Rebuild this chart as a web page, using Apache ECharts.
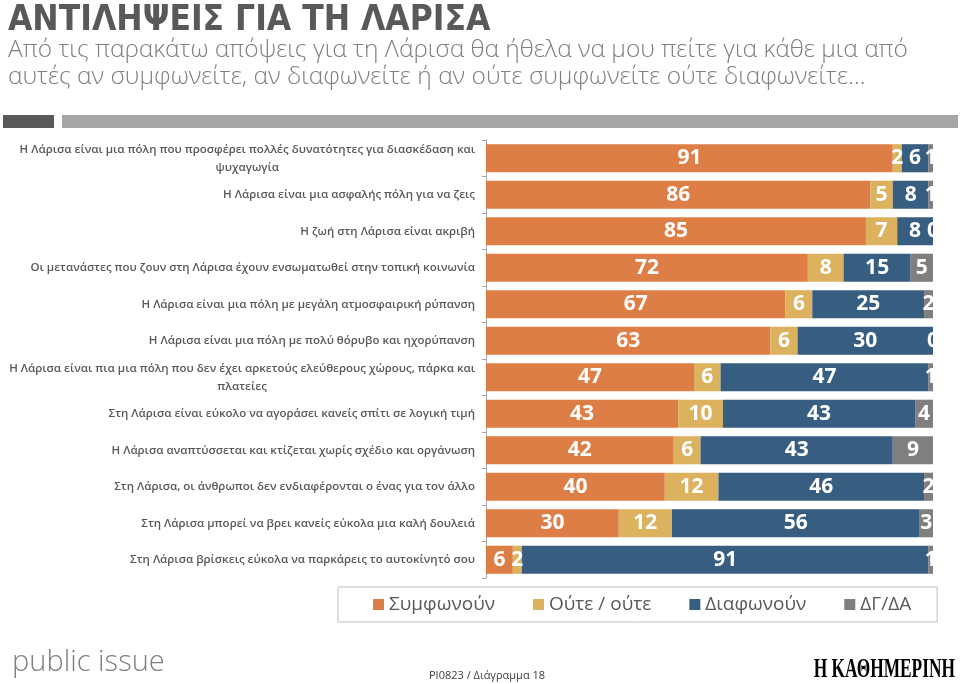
<!DOCTYPE html>
<html><head><meta charset="utf-8">
<script src="https://cdn.jsdelivr.net/npm/echarts@6/dist/echarts.min.js"></script>
<style>html,body{margin:0;padding:0;background:#fff}#c{width:960px;height:684px}</style>
</head><body><div id="c"></div>
<script>
const categories = [
  "Η Λάρισα είναι μια πόλη που προσφέρει πολλές δυνατότητες για διασκέδαση και\nψυχαγωγία",
  "Η Λάρισα είναι μια ασφαλής πόλη για να ζεις",
  "Η ζωή στη Λάρισα είναι ακριβή",
  "Οι μετανάστες που ζουν στη Λάρισα έχουν ενσωματωθεί στην τοπική κοινωνία",
  "Η Λάρισα είναι μια πόλη με μεγάλη ατμοσφαιρική ρύπανση",
  "Η Λάρισα είναι μια πόλη με πολύ θόρυβο και ηχορύπανση",
  "Η Λάρισα είναι πια μια πόλη που δεν έχει αρκετούς ελεύθερους χώρους, πάρκα και\nπλατείες",
  "Στη Λάρισα είναι εύκολο να αγοράσει κανείς σπίτι σε λογική τιμή",
  "Η Λάρισα αναπτύσσεται και κτίζεται χωρίς σχέδιο και οργάνωση",
  "Στη Λάρισα, οι άνθρωποι δεν ενδιαφέρονται ο ένας για τον άλλο",
  "Στη Λάρισα μπορεί να βρει κανείς εύκολα μια καλή δουλειά",
  "Στη Λάρισα βρίσκεις εύκολα να παρκάρεις το αυτοκίνητό σου"
];
const seriesNames = ["Συμφωνούν", "Ούτε / ούτε", "Διαφωνούν", "ΔΓ/ΔΑ"];
const agree    = [91, 86, 85, 72, 67, 63, 47, 43, 42, 40, 30, 6];
const neither  = [2, 5, 7, 8, 6, 6, 6, 10, 6, 12, 12, 2];
const disagree = [6, 8, 8, 15, 25, 30, 47, 43, 43, 46, 56, 91];
const dkna     = [1, 1, 0, 5, 2, 0, 1, 4, 9, 2, 3, 1];
const colors = ["#DE7E47", "#DDB25E", "#375D81", "#7F7F7F"];

const raw = [agree, neither, disagree, dkna];
const totals = categories.map((_, i) => raw.reduce((s, a) => s + a[i], 0));

const chart = echarts.init(document.getElementById('c'), null, {renderer: 'canvas'});
const numFont = "'Open Sans', 'Noto Sans', sans-serif";

chart.setOption({
  animation: false,
  backgroundColor: '#fff',
  grid: {left: 486, right: 27, top: 140, bottom: 106, containLabel: false},
  xAxis: {type: 'value', min: 0, max: 100, show: false},
  yAxis: {
    type: 'category', data: categories, inverse: true,
    axisLine: {show: true, lineStyle: {color: '#A6A6A6', width: 1}},
    axisTick: {show: true, length: 4, lineStyle: {color: '#A6A6A6'}},
    axisLabel: {
      margin: 11,
      formatter: v => v.split('\n').map((l, i) => (i === 0 ? '{a|' : '{c|') + l + '}').join('\n'),
      rich: {
        a: {fontFamily: numFont, fontSize: 11.5, fontWeight: 600, color: '#595959', lineHeight: 18},
        c: {fontFamily: numFont, fontSize: 11.5, fontWeight: 600, color: '#595959', lineHeight: 18, align: 'center'}
      }
    }
  },
  legend: {
    data: seriesNames,
    left: 338, top: 587,
    orient: 'horizontal',
    icon: 'rect', itemWidth: 11, itemHeight: 11, itemGap: 38,
    borderColor: '#BFBFBF', borderWidth: 1,
    padding: [8, 26, 8, 35],
    textStyle: {fontFamily: numFont, fontSize: 19, color: '#595959'}
  },
  series: raw.map((arr, s) => ({
    name: seriesNames[s],
    type: 'bar', stack: 'total',
    barCategoryGap: '23%',
    itemStyle: {color: colors[s]},
    data: arr.map((v, i) => v / totals[i] * 100),
    label: {
      show: true, position: 'inside',
      color: '#fff', fontFamily: numFont, fontWeight: 'bold', fontSize: 21,
      formatter: p => String(arr[p.dataIndex])
    }
  })),
  graphic: [
    {type: 'text', left: 8, top: 3, style: {text: 'ΑΝΤΙΛΗΨΕΙΣ ΓΙΑ ΤΗ ΛΑΡΙΣΑ', fill: '#595959',
      font: "bold 35px 'Liberation Sans Narrow', 'DejaVu Sans Condensed', sans-serif"}},
    {type: 'text', left: 8, top: 37, style: {text: 'Από τις παρακάτω απόψεις για τη Λάρισα θα ήθελα να μου πείτε για κάθε μια από\nαυτές αν συμφωνείτε, αν διαφωνείτε ή αν ούτε συμφωνείτε ούτε διαφωνείτε…',
      fill: '#7F7F7F', lineHeight: 27, font: "300 24.5px 'Open Sans', sans-serif"}},
    {type: 'rect', shape: {x: 3, y: 115, width: 51, height: 13}, style: {fill: '#595959'}},
    {type: 'rect', shape: {x: 62, y: 115, width: 896, height: 13}, style: {fill: '#A6A6A6'}},
    {type: 'text', left: 12, top: 648, style: {text: 'public issue', fill: '#7F7F7F',
      font: "300 29px 'Open Sans', sans-serif"}},
    {type: 'text', x: 487, y: 676, style: {text: 'PI0823 / Διάγραμμα 18', fill: '#404040', align: 'center', verticalAlign: 'middle',
      font: "11px 'Liberation Sans Narrow', 'Open Sans', sans-serif"}},
    {type: 'text', x: 955, y: 670, scaleX: 0.62, style: {text: 'Η ΚΑΘΗΜΕΡΙΝΗ', fill: '#000', align: 'right', verticalAlign: 'middle',
      font: "bold 28px 'Liberation Serif', serif"}}
  ]
});
</script>
</body></html>
